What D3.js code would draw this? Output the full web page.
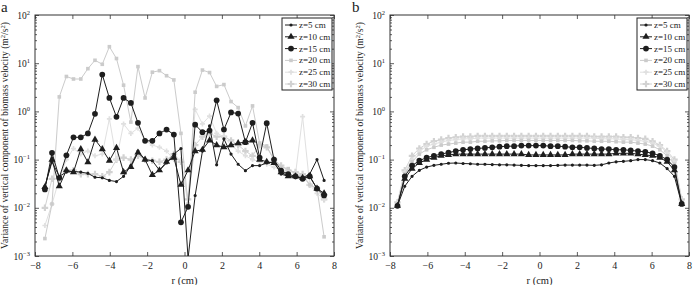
<!DOCTYPE html>
<html>
<head>
<meta charset="utf-8">
<script src="https://cdn.jsdelivr.net/npm/d3@7"></script>
<style>
  body { margin: 0; background: #fff; }
  svg { display: block; }
  text { font-family: "Liberation Serif", "DejaVu Serif", serif; fill: #222; }
</style>
</head>
<body>
<div id="chart"></div>
<script>
// radial positions (cm)
let rLeft = [-7.47, -7.09, -6.70, -6.32, -5.94, -5.55, -5.17, -4.79, -4.40, -4.02,
             -3.64, -3.26, -2.87, -2.49, -2.11, -1.72, -1.34, -0.96, -0.57, -0.19,
             0.19, 0.57, 0.96, 1.34, 1.72, 2.11, 2.49, 2.87, 3.26, 3.64,
             4.02, 4.40, 4.79, 5.17, 5.55, 5.94, 6.32, 6.70, 7.09, 7.47];
let rRight = [-7.60, -7.21, -6.82, -6.43, -6.04, -5.65, -5.26, -4.87, -4.48, -4.09,
              -3.70, -3.31, -2.92, -2.53, -2.14, -1.75, -1.36, -0.97, -0.58, -0.19,
              0.20, 0.59, 0.98, 1.37, 1.76, 2.15, 2.54, 2.93, 3.32, 3.71,
              4.10, 4.49, 4.88, 5.27, 5.66, 6.05, 6.44, 6.83, 7.22, 7.61];

let seriesNames = ["z=5 cm", "z=10 cm", "z=15 cm", "z=20 cm", "z=25 cm", "z=30 cm"];

// panel a
let aZ5  = [0.028, 0.09, 0.045, 0.055, 0.057, 0.055, 0.052, 0.043, 0.042, 0.037, 0.035, 0.045, 0.075, 0.15, 0.1, 0.095, 0.06, 0.085, 0.13, 0.17,
            0.0009, 0.018, 0.15, 0.5, 0.078, 0.27, 0.13, 0.08, 0.059, 0.075, 0.075, 0.085, 0.09, 0.05, 0.045, 0.042, 0.042, 0.05, 0.1, 0.037];
let aZ10 = [0.027, 0.1, 0.028, 0.06, 0.055, 0.165, 0.088, 0.26, 0.165, 0.095, 0.175, 0.055, 0.07, 0.14, 0.1, 0.048, 0.06, 0.09, 0.11, 0.03,
            0.06, 0.15, 0.16, 0.25, 0.2, 0.18, 0.2, 0.22, 0.23, 0.25, 0.1, 0.09, 0.085, 0.055, 0.045, 0.045, 0.042, 0.045, 0.025, 0.02];
let aZ15 = [0.024, 0.138, 0.042, 0.123, 0.29, 0.29, 0.35, 0.89, 5.8, 1.9, 0.77, 1.9, 1.5, 0.58, 0.245, 0.245, 0.35, 0.42, 0.33, 0.005,
            0.0105, 0.53, 0.37, 0.4, 1.7, 0.42, 0.95, 0.9, 0.23, 0.58, 0.11, 0.57, 0.1, 0.059, 0.05, 0.045, 0.04, 0.045, 0.025, 0.018];
let aZ20 = [0.0023, 0.012, 2.0, 5.3, 4.7, 4.7, 7.7, 11.5, 9.5, 22, 12.5, 3.5, 0.6, 8.5, 1.9, 6.5, 7, 5.5, 4.5, 0.35,
            0.012, 2.5, 7.2, 6.4, 3.3, 3.6, 1.6, 1.2, 0.5, 1.3, 0.22, 0.19, 0.1, 0.07, 0.065, 0.05, 0.045, 0.03, 0.025, 0.0025];
let aZ25 = [0.0043, 0.012, 0.04, 0.1, 0.17, 0.13, 0.15, 0.12, 0.13, 0.7, 0.1, 0.55, 0.35, 0.45, 0.25, 0.2, 0.18, 0.15, 0.1, 0.1,
            0.012, 1.1, 0.55, 0.8, 0.35, 0.3, 0.2, 0.15, 0.12, 0.1, 0.09, 0.08, 0.07, 0.06, 0.06, 0.05, 0.78, 0.03, 0.02, 0.015];
let aZ30 = [0.01, 0.04, 0.04, 0.06, 0.06, 0.05, 0.05, 0.05, 0.045, 0.055, 0.1, 0.11, 0.1, 0.12, 0.1, 0.095, 0.09, 0.1, 0.13, 0.09,
            0.015, 0.2, 0.3, 0.35, 0.3, 0.3, 0.25, 0.2, 0.15, 0.12, 0.2, 0.18, 0.1, 0.075, 0.06, 0.055, 0.05, 0.03, 0.025, 0.015];

// panel b
let bZ5  = [0.011, 0.028, 0.045, 0.06, 0.07, 0.076, 0.08, 0.084, 0.085, 0.083, 0.082, 0.08, 0.08, 0.079, 0.078, 0.078, 0.077, 0.076, 0.075, 0.075,
            0.075, 0.075, 0.076, 0.077, 0.077, 0.077, 0.077, 0.076, 0.078, 0.085, 0.09, 0.092, 0.095, 0.1, 0.1, 0.095, 0.085, 0.065, 0.045, 0.012];
let bZ10 = [0.011, 0.04, 0.065, 0.085, 0.1, 0.11, 0.12, 0.125, 0.13, 0.13, 0.13, 0.13, 0.13, 0.13, 0.13, 0.13, 0.13, 0.13, 0.125, 0.125,
            0.125, 0.125, 0.125, 0.125, 0.13, 0.13, 0.13, 0.13, 0.13, 0.13, 0.135, 0.135, 0.135, 0.13, 0.125, 0.12, 0.11, 0.09, 0.06, 0.012];
let bZ15 = [0.011, 0.045, 0.075, 0.095, 0.11, 0.12, 0.13, 0.14, 0.15, 0.16, 0.165, 0.17, 0.175, 0.18, 0.185, 0.19, 0.19, 0.195, 0.195, 0.195,
            0.195, 0.19, 0.19, 0.185, 0.18, 0.18, 0.175, 0.17, 0.165, 0.165, 0.16, 0.16, 0.155, 0.15, 0.145, 0.135, 0.12, 0.1, 0.07, 0.012];
let bZ20 = [0.012, 0.05, 0.09, 0.13, 0.16, 0.18, 0.2, 0.21, 0.22, 0.23, 0.23, 0.24, 0.24, 0.245, 0.245, 0.25, 0.25, 0.25, 0.25, 0.25,
            0.25, 0.25, 0.25, 0.25, 0.25, 0.245, 0.245, 0.24, 0.24, 0.24, 0.235, 0.23, 0.23, 0.22, 0.21, 0.19, 0.16, 0.12, 0.08, 0.013];
let bZ25 = [0.012, 0.055, 0.1, 0.15, 0.19, 0.21, 0.23, 0.25, 0.26, 0.27, 0.27, 0.28, 0.28, 0.28, 0.28, 0.28, 0.28, 0.28, 0.28, 0.28,
            0.28, 0.28, 0.28, 0.28, 0.28, 0.28, 0.28, 0.28, 0.27, 0.27, 0.27, 0.26, 0.26, 0.25, 0.24, 0.22, 0.19, 0.14, 0.09, 0.014];
let bZ30 = [0.013, 0.06, 0.12, 0.17, 0.21, 0.24, 0.26, 0.28, 0.29, 0.3, 0.3, 0.31, 0.31, 0.31, 0.31, 0.31, 0.31, 0.31, 0.31, 0.31,
            0.31, 0.31, 0.31, 0.31, 0.31, 0.31, 0.31, 0.3, 0.3, 0.3, 0.3, 0.29, 0.29, 0.28, 0.27, 0.24, 0.2, 0.15, 0.1, 0.015];

let xTicks = [-8, -6, -4, -2, 0, 2, 4, 6, 8];
let yTicks = [1e-3, 1e-2, 1e-1, 1e0, 1e1, 1e2];
let yExps = ["\u22123", "\u22122", "\u22121", "0", "1", "2"];

let styles = [
  {color: "#1e1e1e", symbol: d3.symbolCircle, size: 8},
  {color: "#1e1e1e", symbol: d3.symbolTriangle, size: 22},
  {color: "#1e1e1e", symbol: d3.symbolCircle, size: 26},
  {color: "#cbcbcb", symbol: d3.symbolSquare, size: 13},
  {color: "#e0e0e0", symbol: d3.symbolCross, size: 14},
  {color: "#d2d2d2", symbol: d3.symbolCross, size: 24}
];

let svg = d3.select("#chart").append("svg")
  .attr("width", 694)
  .attr("height", 285);

function panel(opts) {
  let x0 = opts.left, y0 = 15, w = 299, h = 241;

  let xScale = d3.scaleLinear().domain([-8, 8]).range([0, w]);
  let yScale = d3.scaleLog().domain([1e-3, 1e2]).range([h, 0]);

  let g = svg.append("g").attr("transform", "translate(" + x0 + "," + y0 + ")");

  g.append("clipPath").attr("id", "clip" + opts.id)
    .append("rect").attr("width", w).attr("height", h);

  // minor ticks on the log axis
  let minors = [];
  yTicks.slice(0, -1).forEach(function(t) {
    for (let k = 2; k < 10; k++) minors.push(t * k);
  });

  let axisStyle = function(sel) {
    sel.select(".domain").remove();
    sel.selectAll("line").attr("stroke", "#333").attr("stroke-width", 0.8);
  };

  g.append("g").attr("transform", "translate(0," + h + ")")
    .call(d3.axisBottom(xScale).tickValues(xTicks).tickSize(-4).tickPadding(6)
      .tickFormat(function(d) { return d < 0 ? "\u2212" + Math.abs(d) : d; }))
    .call(axisStyle)
    .selectAll("text").attr("font-size", 10).attr("font-family", "Liberation Serif").attr("fill", "#222");

  g.append("g")
    .call(d3.axisTop(xScale).tickValues(xTicks).tickSize(-4).tickFormat(""))
    .call(axisStyle);

  let yl = g.append("g")
    .call(d3.axisLeft(yScale).tickValues(yTicks).tickSize(-4).tickPadding(5).tickFormat(""))
    .call(axisStyle);
  yl.selectAll(".tick text").each(function(d, i) {
    let t = d3.select(this).attr("font-size", 9.5).attr("font-family", "Liberation Serif").attr("fill", "#222");
    t.append("tspan").text("10");
    t.append("tspan").attr("dy", -4).attr("font-size", 6.5).text(yExps[i]);
  });
  g.append("g").call(d3.axisLeft(yScale).tickValues(minors).tickSize(-2).tickFormat("")).call(axisStyle);

  g.append("g").attr("transform", "translate(" + w + ",0)")
    .call(d3.axisRight(yScale).tickValues(yTicks).tickSize(-4).tickFormat("")).call(axisStyle);
  g.append("g").attr("transform", "translate(" + w + ",0)")
    .call(d3.axisRight(yScale).tickValues(minors).tickSize(-2).tickFormat("")).call(axisStyle);

  g.append("rect").attr("width", w).attr("height", h)
    .attr("fill", "none").attr("stroke", "#333").attr("stroke-width", 1);

  let plot = g.append("g").attr("clip-path", "url(#clip" + opts.id + ")");

  let line = d3.line()
    .x(function(d) { return xScale(d[0]); })
    .y(function(d) { return yScale(d[1]); });

  // light series first, dark on top
  [5, 4, 3, 2, 1, 0].forEach(function(s) {
    let pts = opts.r.map(function(r, i) { return [r, opts.series[s][i]]; });
    let st = styles[s];
    plot.append("path").datum(pts)
      .attr("fill", "none").attr("stroke", st.color).attr("stroke-width", 1)
      .attr("d", line);
    plot.selectAll(".m" + s)
      .data(pts).enter().append("path")
      .attr("class", "m" + s)
      .attr("transform", function(d) { return "translate(" + xScale(d[0]) + "," + yScale(d[1]) + ")"; })
      .attr("d", d3.symbol().type(st.symbol).size(st.size))
      .attr("fill", st.color);
  });

  // legend
  let lg = g.append("g").attr("transform", "translate(" + (w - 52) + ",3)");
  lg.append("rect").attr("width", 50).attr("height", 72)
    .attr("fill", "#fff").attr("stroke", "#222").attr("stroke-width", 1);
  seriesNames.forEach(function(name, s) {
    let yy = 7 + s * 11.8;
    let st = styles[s];
    lg.append("line").attr("x1", 3).attr("x2", 15).attr("y1", yy).attr("y2", yy)
      .attr("stroke", st.color).attr("stroke-width", 1);
    lg.append("path").attr("transform", "translate(9," + yy + ")")
      .attr("d", d3.symbol().type(st.symbol).size(st.size)).attr("fill", st.color);
    lg.append("text").attr("x", 17).attr("y", yy + 3).attr("font-size", 9).text(name);
  });

  // axis titles
  g.append("text").attr("x", w / 2).attr("y", h + 28)
    .attr("text-anchor", "middle").attr("font-size", 10.5).text("r (cm)");

  let yt = svg.append("text")
    .attr("transform", "translate(" + (x0 - 27) + "," + (y0 + h / 2) + ") rotate(-90)")
    .attr("text-anchor", "middle").attr("font-size", 9.6);
  yt.append("tspan").text("Variance of vertical component of biomass velocity (m");
  yt.append("tspan").attr("dy", -3).attr("font-size", 6.5).text("2");
  yt.append("tspan").attr("dy", 3).text("/s");
  yt.append("tspan").attr("dy", -3).attr("font-size", 6.5).text("2");
  yt.append("tspan").attr("dy", 3).text(")");

  svg.append("text").attr("x", opts.labelX).attr("y", 12)
    .attr("font-family", "Liberation Sans").attr("font-size", 15).text(opts.label);
}

panel({id: "a", left: 35, r: rLeft, series: [aZ5, aZ10, aZ15, aZ20, aZ25, aZ30], label: "a", labelX: 1});
panel({id: "b", left: 390, r: rRight, series: [bZ5, bZ10, bZ15, bZ20, bZ25, bZ30], label: "b", labelX: 352});
</script>
</body>
</html>
